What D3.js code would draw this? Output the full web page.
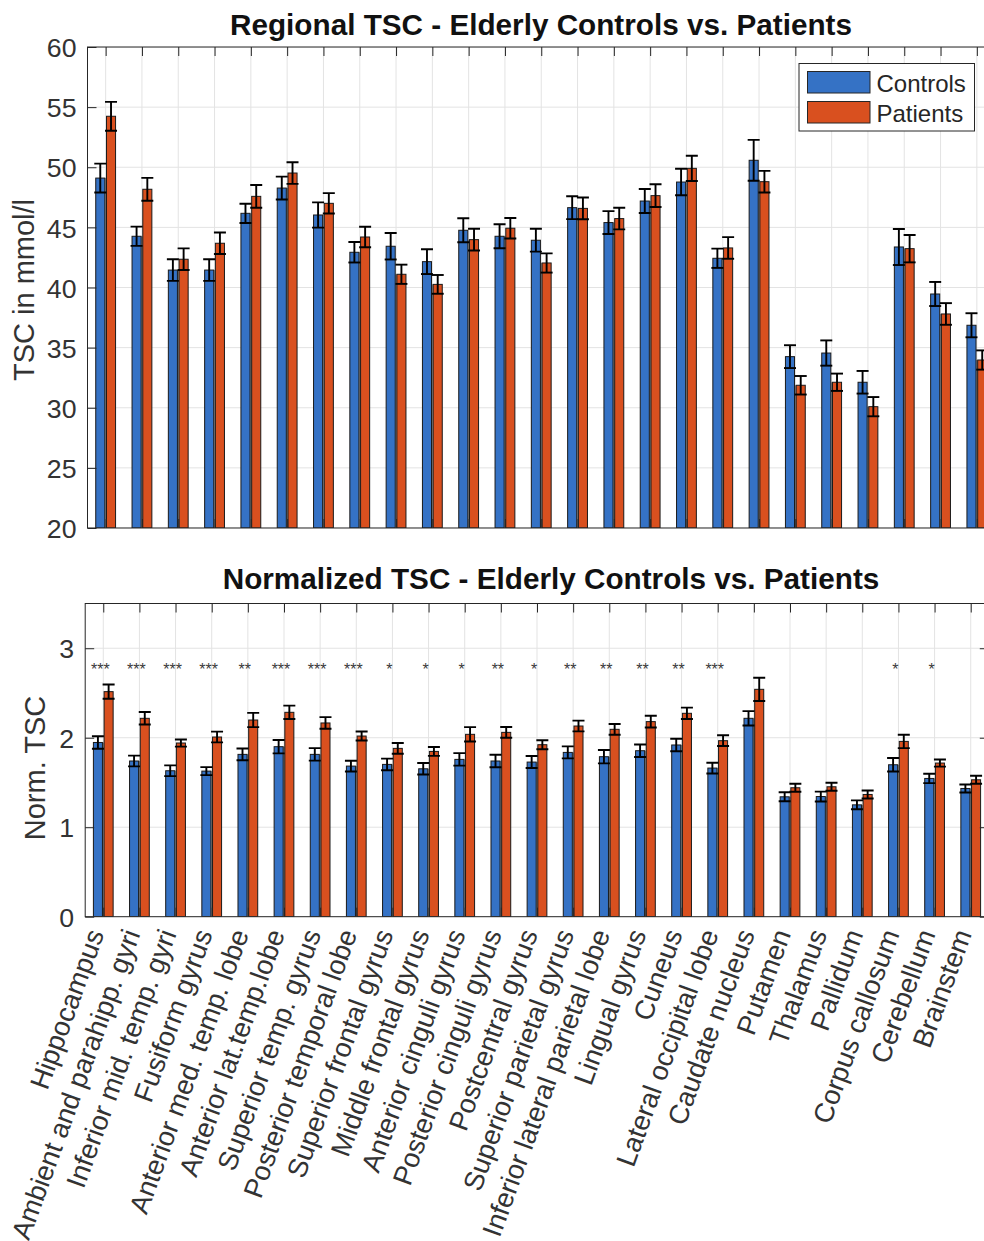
<!DOCTYPE html>
<html>
<head>
<meta charset="utf-8">
<script src="https://cdn.jsdelivr.net/npm/d3@7"></script>
<style>
  html, body { margin: 0; padding: 0; background: #fff; }
  svg { display: block; font-family: "Liberation Sans", Arial, Helvetica, sans-serif; }
</style>
</head>
<body>
<svg id="chart" width="984" height="1241"></svg>
<script>
// Brain regions (x categories)
const regions = [
  "Hippocampus", "Ambient and parahipp. gyri", "Inferior mid. temp. gyri", "Fusiform gyrus",
  "Anterior med. temp. lobe", "Anterior lat.temp.lobe", "Superior temp. gyrus", "Posterior temporal lobe",
  "Superior frontal gyrus", "Middle frontal gyrus", "Anterior cinguli gyrus", "Posterior cinguli gyrus",
  "Postcentral gyrus", "Superior parietal gyrus", "Inferior lateral parietal lobe", "Lingual gyrus",
  "Cuneus", "Lateral occipital lobe", "Caudate nucleus", "Putamen", "Thalamus", "Pallidum",
  "Corpus callosum", "Cerebellum", "Brainstem"
];
const seriesNames = ["Controls", "Patients"];

// Regional TSC in mmol/l (mean and error)
const tscControls = [49.1, 44.26, 41.45, 41.45, 46.17, 48.27, 46.03, 42.93, 43.43, 42.15, 44.76, 44.26, 43.93,
  46.64, 45.4, 47.19, 48.77, 42.43, 50.58, 34.25, 34.55, 32.12, 43.37, 39.46, 36.86];
const tscControlsErr = [1.2, 0.8, 0.9, 0.9, 0.8, 0.95, 1.05, 0.85, 1.1, 1.03, 1.0, 1.0, 0.95,
  0.95, 0.95, 1.0, 1.1, 0.8, 1.7, 0.95, 1.05, 0.94, 1.5, 1.0, 1.0];
const tscPatients = [54.24, 48.17, 42.35, 43.68, 47.58, 49.52, 47.0, 44.2, 41.1, 40.26, 43.98, 44.93, 42.04,
  46.58, 45.73, 47.64, 49.91, 43.29, 48.8, 31.87, 32.12, 30.09, 43.23, 37.8, 33.97];
const tscPatientsErr = [1.2, 0.95, 0.9, 0.9, 0.95, 0.9, 0.85, 0.85, 0.8, 0.78, 0.9, 0.85, 0.8,
  0.9, 0.9, 0.95, 1.05, 0.9, 0.9, 0.77, 0.72, 0.8, 1.14, 0.9, 0.8];

// Normalized TSC (mean and error)
const normControls = [1.947, 1.74, 1.631, 1.627, 1.814, 1.9, 1.814, 1.683, 1.702, 1.653, 1.758, 1.74, 1.728,
  1.836, 1.788, 1.855, 1.919, 1.661, 2.217, 1.34, 1.343, 1.25, 1.698, 1.545, 1.433];
const normControlsErr = [0.07, 0.06, 0.06, 0.045, 0.065, 0.075, 0.07, 0.06, 0.065, 0.064, 0.07, 0.07, 0.067,
  0.067, 0.075, 0.07, 0.07, 0.06, 0.08, 0.05, 0.055, 0.05, 0.075, 0.052, 0.045];
const normPatients = [2.515, 2.217, 1.941, 2.008, 2.198, 2.284, 2.165, 2.019, 1.881, 1.847, 2.038, 2.06, 1.922,
  2.131, 2.094, 2.18, 2.273, 1.967, 2.541, 1.441, 1.452, 1.366, 1.959, 1.717, 1.53];
const normPatientsErr = [0.08, 0.07, 0.04, 0.06, 0.08, 0.075, 0.065, 0.05, 0.06, 0.05, 0.08, 0.06, 0.05,
  0.06, 0.06, 0.065, 0.063, 0.06, 0.13, 0.045, 0.045, 0.045, 0.075, 0.04, 0.045];

// Significance markers for the normalized comparison
const significance = ["***", "***", "***", "***", "**", "***", "***", "***", "*", "*", "*", "**", "*",
  "**", "**", "**", "**", "***", "", "", "", "", "*", "*", ""];

// Axis ticks
const tscTicks = [20, 25, 30, 35, 40, 45, 50, 55, 60];
const normTicks = [0, 1, 2, 3];

const colors = ["#3572c5", "#d9501f"];
const axisColor = "#262626";
const labelColor = "#333";
const gridColor = "#e3e3e3";
const FONT = 26.7;

const svg = d3.select("#chart");
svg.append("rect").attr("width", 984).attr("height", 1241).attr("fill", "#fff");

const idx = d3.range(1, regions.length + 1);

function panel(opts) {
  const { left, right, top, bottom, yDomain, yTicks, controls, controlsErr, patients, patientsErr,
          title, titleX, titleY, ylabel, ylabelX, ylabelY, showXLabels, clipId } = opts;
  const x = d3.scaleLinear().domain([0.5, regions.length + 0.5]).range([left, right]);
  const y = d3.scaleLinear().domain(yDomain).range([bottom, top]);
  const unit = x(2) - x(1);
  const barW = 0.25 * unit;
  const off = 0.148 * unit;

  svg.append("clipPath").attr("id", clipId)
    .append("rect").attr("x", left).attr("y", top).attr("width", right - left).attr("height", bottom - top);

  const g = svg.append("g");
  const plot = g.append("g").attr("clip-path", `url(#${clipId})`);

  // grid
  plot.selectAll("line.vg").data(idx).join("line")
    .attr("x1", d => x(d)).attr("x2", d => x(d)).attr("y1", top).attr("y2", bottom)
    .attr("stroke", gridColor).attr("stroke-width", 1);
  plot.selectAll("line.hg").data(yTicks).join("line")
    .attr("x1", left).attr("x2", right).attr("y1", d => y(d)).attr("y2", d => y(d))
    .attr("stroke", gridColor).attr("stroke-width", 1);

  const base = y(yDomain[0]);
  const groups = [
    { vals: controls, errs: controlsErr, dir: -1, color: colors[0] },
    { vals: patients, errs: patientsErr, dir: 1, color: colors[1] }
  ];

  // seam between paired bars
  plot.selectAll("rect.seam").data(idx).join("rect")
    .attr("x", d => x(d) - (off - barW / 2))
    .attr("width", 2 * (off - barW / 2))
    .attr("y", d => y(Math.min(controls[d - 1], patients[d - 1])))
    .attr("height", d => base - y(Math.min(controls[d - 1], patients[d - 1])))
    .attr("fill", "#8a8a8a");

  groups.forEach(s => {
    plot.selectAll(null).data(idx).join("rect")
      .attr("x", d => x(d) + s.dir * off - barW / 2)
      .attr("width", barW)
      .attr("y", d => y(s.vals[d - 1]))
      .attr("height", d => base - y(s.vals[d - 1]))
      .attr("fill", s.color)
      .attr("stroke", "#1a1a1a").attr("stroke-width", 1);
  });

  // error bars
  const capW = 12;
  groups.forEach(s => {
    const eb = plot.selectAll(null).data(idx).join("g")
      .attr("stroke", "#000").attr("stroke-width", 1.9).attr("fill", "none");
    eb.append("line")
      .attr("x1", d => x(d) + s.dir * off).attr("x2", d => x(d) + s.dir * off)
      .attr("y1", d => y(s.vals[d - 1] - s.errs[d - 1])).attr("y2", d => y(s.vals[d - 1] + s.errs[d - 1]));
    [-1, 1].forEach(sign => {
      eb.append("line")
        .attr("x1", d => x(d) + s.dir * off - capW / 2).attr("x2", d => x(d) + s.dir * off + capW / 2)
        .attr("y1", d => y(s.vals[d - 1] + sign * s.errs[d - 1]))
        .attr("y2", d => y(s.vals[d - 1] + sign * s.errs[d - 1]));
    });
  });

  // axes box
  g.append("rect").attr("x", left).attr("y", top).attr("width", right - left).attr("height", bottom - top)
    .attr("fill", "none").attr("stroke", axisColor).attr("stroke-width", 1);

  // tick marks via d3 axes (left/right/top/bottom)
  const tickLen = 9;
  const axL = g.append("g").attr("transform", `translate(${left},0)`)
    .call(d3.axisLeft(y).tickValues(yTicks).tickSize(-tickLen).tickPadding(11).tickFormat(d3.format("d")));
  const axR = g.append("g").attr("transform", `translate(${right},0)`)
    .call(d3.axisRight(y).tickValues(yTicks).tickSize(-tickLen).tickFormat(""));
  const axT = g.append("g").attr("transform", `translate(0,${top})`)
    .call(d3.axisTop(x).tickValues(idx).tickSize(-tickLen).tickFormat(""));
  const axB = g.append("g").attr("transform", `translate(0,${bottom})`)
    .call(d3.axisBottom(x).tickValues(idx).tickSize(-tickLen).tickFormat(""));
  [axL, axR, axT, axB].forEach(a => {
    a.select(".domain").remove();
    a.selectAll(".tick line").attr("stroke", axisColor).attr("stroke-width", 1);
  });
  axL.selectAll(".tick text")
    .attr("font-size", FONT).attr("fill", labelColor)
    .attr("font-family", "Liberation Sans, Arial, sans-serif")
    .attr("dy", "0.36em");

  if (showXLabels) {
    const lbl = g.append("g");
    lbl.selectAll("text").data(idx).join("text")
      .attr("transform", d => `translate(${x(d) - 7},${bottom + 14}) rotate(-70)`)
      .attr("text-anchor", "end").attr("dy", "0.32em")
      .attr("font-size", 27.4).attr("fill", labelColor)
      .text(d => regions[d - 1]);
  }

  // title
  g.append("text").attr("x", titleX).attr("y", titleY)
    .attr("text-anchor", "middle").attr("font-size", 29.7).attr("font-weight", "bold").attr("fill", "#111")
    .text(title);

  // y label
  g.append("text").attr("transform", `translate(${ylabelX},${ylabelY}) rotate(-90)`)
    .attr("text-anchor", "middle").attr("font-size", 29).attr("fill", labelColor)
    .text(ylabel);

  return { x, y, g };
}

// Panel 1: absolute TSC
const p1 = panel({
  left: 87.5, right: 995, top: 47, bottom: 528, yDomain: [20, 60], yTicks: tscTicks,
  controls: tscControls, controlsErr: tscControlsErr, patients: tscPatients, patientsErr: tscPatientsErr,
  title: "Regional TSC - Elderly Controls vs. Patients", titleX: 541, titleY: 35,
  ylabel: "TSC in mmol/l", ylabelX: 34, ylabelY: 290, showXLabels: false, clipId: "clipTop"
});

// Legend
const leg = p1.g.append("g");
leg.append("rect").attr("x", 799).attr("y", 63.5).attr("width", 175.5).attr("height", 67.5)
  .attr("fill", "#fff").attr("stroke", axisColor).attr("stroke-width", 1);
seriesNames.forEach((name, i) => {
  leg.append("rect").attr("x", 807.5).attr("y", 71.5 + i * 30).attr("width", 62.5).attr("height", 21.5)
    .attr("fill", colors[i]).attr("stroke", axisColor).attr("stroke-width", 1);
  leg.append("text").attr("x", 876.5).attr("y", 92.3 + i * 30)
    .attr("font-size", 24).attr("fill", axisColor).text(name);
});

// Panel 2: normalized TSC
const p2 = panel({
  left: 85.2, right: 988.8, top: 603.5, bottom: 916.7, yDomain: [0, 3.5], yTicks: normTicks,
  controls: normControls, controlsErr: normControlsErr, patients: normPatients, patientsErr: normPatientsErr,
  title: "Normalized TSC - Elderly Controls vs. Patients", titleX: 551, titleY: 588.5,
  ylabel: "Norm. TSC", ylabelX: 45, ylabelY: 768, showXLabels: true, clipId: "clipBottom"
});

// significance stars
p2.g.append("g").selectAll("text").data(idx.filter(d => significance[d - 1] !== "")).join("text")
  .attr("x", d => p2.x(d) - 3)
  .attr("y", p2.y(2.8) + 9)
  .attr("text-anchor", "middle").attr("font-size", 16).attr("fill", "#3a3a3a")
  .text(d => significance[d - 1]);
</script>
</body>
</html>
